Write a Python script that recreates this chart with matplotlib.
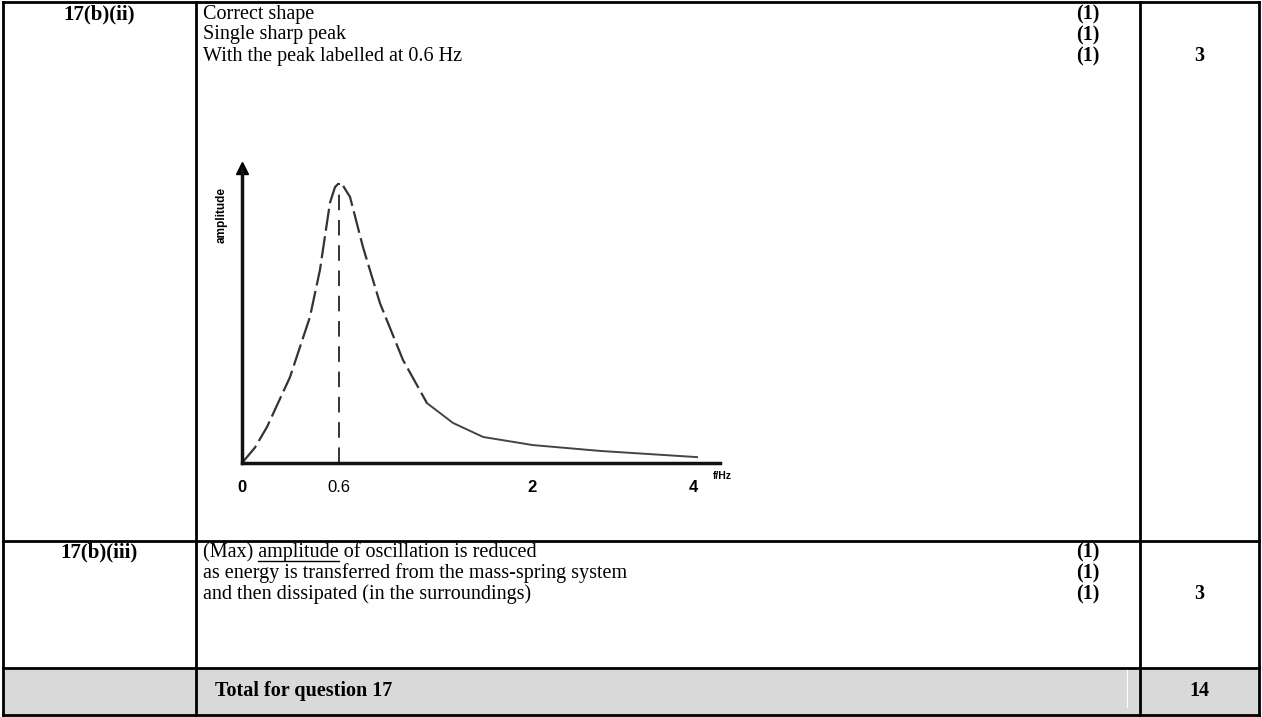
import matplotlib
matplotlib.use('Agg')
import matplotlib.pyplot as plt
import numpy as np

# ---------------- data ----------------
freq = [0.0, 0.08, 0.155, 0.297, 0.42, 0.482, 0.544, 0.575, 0.6, 0.63, 0.68, 0.774,
        0.897, 1.064, 1.238, 1.427, 1.645, 2.01, 2.85, 4.05]
amp = [0.0, 0.055, 0.129, 0.307, 0.521, 0.689, 0.929, 0.985, 1.0, 0.99, 0.95, 0.771,
       0.571, 0.368, 0.214, 0.143, 0.093, 0.064, 0.043, 0.021]
dash_end_freq = 1.238
peak_freq = 0.6
tick_values = [0, 0.6, 2, 4]
tick_labels = ['0', '0.6', '2', '4']
tick_bold = [True, False, True, True]
x_unit = 'f/Hz'
y_label = 'amplitude'

row1_code = '17(b)(ii)'
row1_lines = ['Correct shape', 'Single sharp peak', 'With the peak labelled at 0.6 Hz']
row1_marks = ['(1)', '(1)', '(1)']
row1_total = '3'
row2_code = '17(b)(iii)'
row2_lines = ['(Max) amplitude of oscillation is reduced',
              'as energy is transferred from the mass-spring system',
              'and then dissipated (in the surroundings)']
row2_marks = ['(1)', '(1)', '(1)']
row2_total = '3'
total_label = 'Total for question 17'
total_value = '14'

# ---------------- figure ----------------
W, H = 1262, 717
fig = plt.figure(figsize=(W / 100, H / 100), dpi=100)
tab = fig.add_axes([0, 0, 1, 1])
tab.set_xlim(0, W)
tab.set_ylim(H, 0)
tab.axis('off')

serif = 'Liberation Serif'
fs = 14.5

# table geometry (pixels)
L, R, T, B = 3, 1259, 2, 715
c1, c2 = 196, 1140
r1, r2 = 541, 668

tab.fill_between([L, R], r2, B, color='#d9d9d9', zorder=0)
tab.plot([1127, 1127], [r2 + 2, B - 8], color='white', lw=0.8, zorder=1)
lw = 2.0
for xs, ys in [([L, R], [T, T]), ([L, R], [B, B]), ([L, L], [T, B]), ([R, R], [T, B]),
               ([c1, c1], [T, B]), ([c2, c2], [T, B]), ([L, R], [r1, r1]), ([L, R], [r2, r2])]:
    tab.plot(xs, ys, color='black', lw=lw, solid_capstyle='projecting', zorder=3)

line_gap = 21
y_first = 14
# row 1
tab.text((L + c1) / 2, y_first, row1_code, family=serif, weight='bold', fontsize=fs + 0.5,
         ha='center', va='center')
for i, (t, m) in enumerate(zip(row1_lines, row1_marks)):
    y = y_first + i * line_gap
    tab.text(203, y, t, family=serif, fontsize=fs, ha='left', va='center')
    tab.text(1088, y, m, family=serif, weight='bold', fontsize=fs, ha='center', va='center')
tab.text((c2 + R) / 2, y_first + 2 * line_gap, row1_total, family=serif, weight='bold',
         fontsize=fs, ha='center', va='center')

# row 2
y0 = 552
tab.text((L + c1) / 2, y0, row2_code, family=serif, weight='bold', fontsize=fs + 0.5,
         ha='center', va='center')
for i, (t, m) in enumerate(zip(row2_lines, row2_marks)):
    y = y0 + i * line_gap
    tab.text(203, y, t, family=serif, fontsize=fs, ha='left', va='center')
    tab.text(1088, y, m, family=serif, weight='bold', fontsize=fs, ha='center', va='center')
tab.text((c2 + R) / 2, y0 + 2 * line_gap, row2_total, family=serif, weight='bold',
         fontsize=fs, ha='center', va='center')

# underline "amplitude"
renderer = fig.canvas.get_renderer()


def text_w(s):
    t = tab.text(0, 0, s, family=serif, fontsize=fs)
    w = t.get_window_extent(renderer).width
    t.remove()
    return w


space_w = text_w('a a') - text_w('aa')
u0 = 203 + text_w('(Max)') + space_w
u1 = u0 + text_w('amplitude')
tab.plot([u0, u1], [y0 + 9, y0 + 9], color='black', lw=1.0)

# total row
tab.text(215, 691, total_label, family=serif, weight='bold', fontsize=fs, ha='left',
         va='center')
tab.text((c2 + R) / 2, 691, total_value, family=serif, weight='bold', fontsize=fs,
         ha='center', va='center')

# ---------------- chart ----------------
ax_left, ax_bottom, ax_right, ax_top = 242, 463, 720, 168
peak_px = 183
ax = fig.add_axes([ax_left / W, 1 - ax_bottom / H, (ax_right - ax_left) / W,
                   (ax_bottom - ax_top) / H])
ax.patch.set_alpha(0)

# hand-drawn (non-uniform) frequency axis: value -> pixel offset
scale_f = np.array([0.0, 0.6, 2.0, 4.0, 10.0])
scale_p = np.array([0.0, 97.0, 290.0, 451.0, 935.0])


def fwd(v):
    return np.interp(v, scale_f, scale_p)


def inv(p):
    return np.interp(p, scale_p, scale_f)


ax.set_xscale('function', functions=(fwd, inv))
ax.set_xlim(0, inv(ax_right - ax_left))
ax.set_ylim(0, (ax_bottom - ax_top) / (ax_bottom - peak_px))

for s in ['top', 'right']:
    ax.spines[s].set_visible(False)
for s in ['left', 'bottom']:
    ax.spines[s].set_linewidth(2.5)
    ax.spines[s].set_color('#111111')

f = np.array(freq)
a = np.array(amp)
m1 = f <= dash_end_freq
ax.plot(f[m1], a[m1], color='#333333', lw=1.6, dashes=(10, 2.5), clip_on=False)
m2 = f >= dash_end_freq
ax.plot(f[m2], a[m2], color='#444444', lw=1.4, clip_on=False)
ax.plot([peak_freq, peak_freq], [0, 1.0], color='#333333', lw=1.4, dashes=(8, 5))

ax.plot(0, 1, marker='^', color='black', markersize=9, transform=ax.transAxes,
        clip_on=False)

ax.set_xticks(tick_values)
ax.set_xticklabels(tick_labels)
ax.set_yticks([])
ax.tick_params(axis='x', length=0, pad=12)
for lab, b in zip(ax.get_xticklabels(), tick_bold):
    lab.set_family('Liberation Sans')
    lab.set_fontsize(12)
    lab.set_weight('bold' if b else 'normal')

ax.text(inv(fwd(4.0) + 20), -0.045, x_unit, transform=ax.get_xaxis_transform(),
        fontsize=7.5, weight='bold', family='Liberation Sans', ha='left', va='center')
ax.text(-0.042, 0.84, y_label, transform=ax.transAxes, rotation=90, fontsize=8.5,
        weight='bold', family='Liberation Sans', ha='center', va='center')

fig.savefig('out.png', dpi=100)
